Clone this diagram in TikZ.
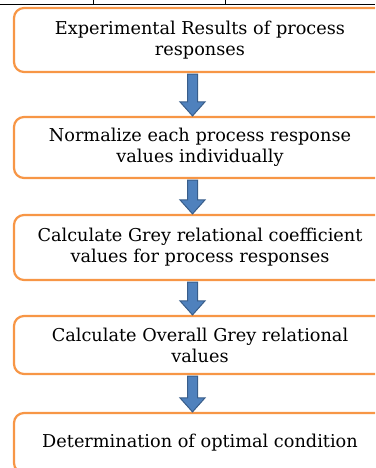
\documentclass[tikz,border=0pt]{standalone}
\usepackage{fontspec}
\setmainfont{DejaVu Serif}
\usetikzlibrary{calc}
\definecolor{boxorange}{HTML}{F79646}
\definecolor{arrowblue}{HTML}{4F81BD}
\definecolor{arrowedge}{HTML}{385D8A}
\tikzset{
  stepbox/.style={draw=boxorange, line width=2.2pt, rounded corners=10pt, fill=white,
    minimum width=372pt, inner sep=0pt, align=center, font=\fontsize{17.7}{21}\selectfont},
  fatarrow/.style={fill=arrowblue, draw=arrowedge, line width=1pt, line join=miter}
}
\begin{document}
\begin{tikzpicture}[x=1pt, y=-1pt]
  \path[use as bounding box, clip] (0,0) rectangle (375,468);
  \draw[black, line width=1pt] (0,4.3) -- (375,4.3);
  \draw[black, line width=1pt] (93,0) -- (93,4.3);
  \draw[black, line width=1pt] (225,0) -- (225,4.3);
  \node[stepbox, minimum height=64pt] (exp) at (200,40) {Experimental Results of process\\responses};
  \node[stepbox, minimum height=61pt] (norm) at (200,147.5) {Normalize each process response\\values individually};
  \node[stepbox, minimum height=65pt] (grc) at (200,247.5) {Calculate Grey relational coefficient\\values for process responses};
  \node[stepbox, minimum height=58pt] (ogr) at (200,345) {Calculate Overall Grey relational\\values};
  \node[stepbox, minimum height=60pt] (opt) at (200,443) {Determination of optimal condition};
  \foreach \a/\b in {exp/norm, norm/grc, grc/ogr, ogr/opt}
    \draw[fatarrow] let \p1=($(\a.south)+(-7.5,1)$), \p2=(\b.north) in
      (\x1-5pt,\y1) -- (\x1+5pt,\y1) -- (\x1+5pt,\y2+14pt) -- (\x1+12.5pt,\y2+14pt)
      -- (\x1,\y2) -- (\x1-12.5pt,\y2+14pt) -- (\x1-5pt,\y2+14pt) -- cycle;
\end{tikzpicture}
\end{document}
